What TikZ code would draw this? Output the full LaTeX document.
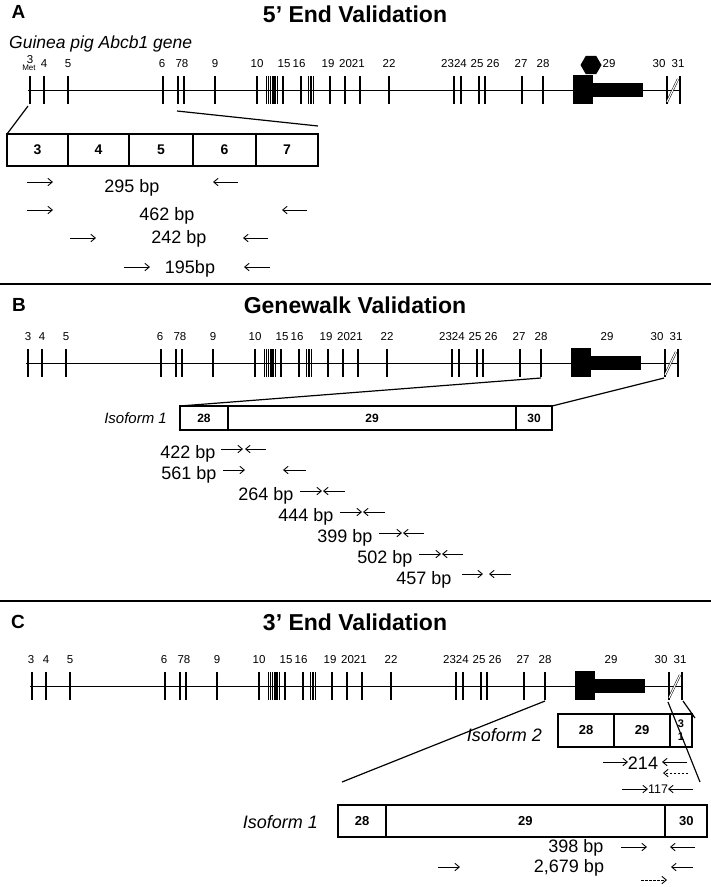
\documentclass[tikz,border=0pt]{standalone}
\usepackage{fontspec}
\setmainfont{Liberation Sans}
\usetikzlibrary{arrows.meta}
\newcommand{\genemodel}[3]{%
 \begin{scope}[shift={(#1,#2)}]
  \draw[line width=1pt] (28,0) -- (680,0);
  \foreach \ex in {30,44,68,163,178,184,215,257,283,301,330,345,360,389,454,461,479,485,522,543,667,680}
    \draw[exon] (\ex,-14) -- (\ex,14);
  \foreach \ex in {266.5,268.6,270.7,272.8,274.9,277.2,308.4,310.8,313.2}
    \draw[thinexon] (\ex,-14) -- (\ex,14);
  \fill (573,-15) rectangle (593,14);
  \fill (593,-7) rectangle (643,7);
  \draw[line width=0.5pt, double, double distance=1.1pt] (667,12) -- (678,-11);
  \foreach \lx/\lt in {44/4,68/5,162/6,182/78,215/9,257/10,284/15,299/16,328/19,352/2021,389/22,454/2324,477/25,493/26,521/27,543/28,609/29,659/30,678/31}
    \node[gl, anchor=base] (#3lab\lt) at (\lx,-23) {\lt};
 \end{scope}}
\newcommand{\primer}[3]{\draw[fw] (#1,#3) -- (#2,#3);}
\newcommand{\primerd}[3]{\draw[fw,dash pattern=on 2.5pt off 1.5pt] (#1,#3) -- (#2,#3);}
\begin{document}
\begin{tikzpicture}[x=1pt,y=-1pt,
  exon/.style={line width=2.9pt},
  thinexon/.style={line width=1.4pt},
  gl/.style={font=\fontsize{11.5}{11.5}\selectfont, inner sep=0pt},
  ttl/.style={font=\fontsize{23}{23}\selectfont\bfseries, inner sep=0pt},
  plet/.style={font=\fontsize{19}{19}\selectfont\bfseries, inner sep=0pt},
  cell/.style={draw, line width=1.8pt, inner sep=0pt, outer sep=0pt, font=\fontsize{12}{12}\selectfont\bfseries},
  bp/.style={font=\fontsize{18}{18}\selectfont, inner sep=0pt},
  iso/.style={font=\fontsize{18}{18}\selectfont\itshape, inner sep=0pt},
  fw/.style={-{Straight Barb[length=4.5pt,width=7.5pt]}, line width=0.9pt},
  conn/.style={line width=1.2pt},
  sep/.style={line width=1.6pt}
]
\useasboundingbox[fill=white] (0,0) rectangle (711,887);

% ---------------- Panel A ----------------
\node[plet] (letA) at (18.5,12) {A};
\node[ttl] (ttlA) at (355,14) {5’ End Validation};
\node[iso, font=\fontsize{17.5}{17.5}\selectfont\itshape, anchor=west] (gname) at (9,44) {Guinea pig Abcb1 gene};
\genemodel{0}{90}{A}
\node[gl, anchor=base] (Alab3) at (30,63.5) {3};
\node[inner sep=0pt, font=\fontsize{8}{8}\selectfont] (Amet) at (29,68) {Met};
\fill (591,65) +(0:10.5) -- +(60:10.5) -- +(120:10.5) -- +(180:10.5) -- +(240:10.5) -- +(300:10.5) -- cycle;

\node[cell, font=\fontsize{14}{14}\selectfont\bfseries, minimum width=61pt, minimum height=32pt] (a3) at (37.5,150) {3};
\node[cell, font=\fontsize{14}{14}\selectfont\bfseries, minimum width=61pt, minimum height=32pt] (a4) at (98.5,150) {4};
\node[cell, font=\fontsize{14}{14}\selectfont\bfseries, minimum width=64pt, minimum height=32pt] (a5) at (161,150) {5};
\node[cell, font=\fontsize{14}{14}\selectfont\bfseries, minimum width=63pt, minimum height=32pt] (a6) at (224.5,150) {6};
\node[cell, font=\fontsize{14}{14}\selectfont\bfseries, minimum width=62pt, minimum height=32pt] (a7) at (287,150) {7};
\coordinate (Ast1) at (28,106);
\coordinate (Ast2) at (177,111);
\coordinate (Aen2) at (318,126);
\draw[conn] (Ast1) -- (a3.north west);
\draw[conn] (Ast2) -- (Aen2);

\primer{27}{53}{182} \node[bp] (bp295) at (132,188) {295 bp}; \primer{238}{213}{182}
\primer{27}{53}{210} \node[bp] (bp462) at (167,216) {462 bp}; \primer{307}{282}{210}
\primer{70}{96}{238} \node[bp] (bp242) at (179,239) {242 bp}; \primer{268}{243}{238}
\primer{124}{150}{267} \node[bp] (bp195) at (190,269) {195bp}; \primer{270}{244}{267}

\coordinate (sepAl) at (0,284); \coordinate (sepAr) at (711,284);
\draw[sep] (sepAl) -- (sepAr);

% ---------------- Panel B ----------------
\node[plet] (letB) at (19,305) {B};
\node[ttl] (ttlB) at (355,305) {Genewalk Validation};
\genemodel{-2}{363}{B}
\node[gl, anchor=base] (Blab3) at (28,340) {3};
\node[cell, minimum width=48pt, minimum height=24pt] (b28) at (204,418) {28};
\node[cell, minimum width=288pt, minimum height=24pt] (b29) at (372,418) {29};
\node[cell, minimum width=36pt, minimum height=24pt] (b30) at (534,418) {30};
\node[iso, font=\fontsize{15}{15}\selectfont\itshape, anchor=east] (isoB) at (167,418) {Isoform 1};
\coordinate (Bst1) at (541,378);
\coordinate (Bst2) at (664,378);
\draw[conn] (Bst1) -- (b28.north west);
\draw[conn] (Bst2) -- (b30.north east);

\node[bp] (bp422) at (188,454) {422 bp}; \primer{221}{243}{449} \primer{266}{245}{449}
\node[bp] (bp561) at (189,475) {561 bp}; \primer{223}{245}{470} \primer{306}{283}{470}
\node[bp] (bp264) at (266,496) {264 bp}; \primer{300}{322}{491} \primer{345}{323}{491}
\node[bp] (bp444) at (306,517) {444 bp}; \primer{340}{362}{512} \primer{385}{363}{512}
\node[bp] (bp399) at (345,538) {399 bp}; \primer{379}{402}{533} \primer{424}{403}{533}
\node[bp] (bp502) at (385,559) {502 bp}; \primer{419}{441}{554} \primer{463}{442}{554}
\node[bp] (bp457) at (424,580) {457 bp}; \primer{462}{483}{574} \primer{511}{489}{574}

\coordinate (sepBl) at (0,601); \coordinate (sepBr) at (711,601);
\draw[sep] (sepBl) -- (sepBr);

% ---------------- Panel C ----------------
\node[plet] (letC) at (18,622) {C};
\node[ttl] (ttlC) at (355,622) {3’ End Validation};
\genemodel{2}{686}{C}
\node[gl, anchor=base] (Clab3) at (31,663) {3};

\node[cell, font=\fontsize{13}{13}\selectfont\bfseries, minimum width=56pt, minimum height=33pt] (c228) at (586,730.5) {28};
\node[cell, font=\fontsize{13}{13}\selectfont\bfseries, minimum width=56pt, minimum height=33pt] (c229) at (642,730.5) {29};
\node[cell, minimum width=22pt, minimum height=33pt, align=center, font=\fontsize{11}{13}\selectfont\bfseries] (c231) at (681,730.5) {3\\1};
\node[iso, anchor=east] (isoC2) at (542,735) {Isoform 2};

\node[cell, font=\fontsize{13}{13}\selectfont\bfseries, minimum width=48pt, minimum height=32pt] (c128) at (362,821) {28};
\node[cell, font=\fontsize{13}{13}\selectfont\bfseries, minimum width=278.5pt, minimum height=32pt] (c129) at (525.25,821) {29};
\node[cell, font=\fontsize{13}{13}\selectfont\bfseries, minimum width=41.5pt, minimum height=32pt] (c130) at (686.25,821) {30};
\node[iso, anchor=east] (isoC1) at (318,822) {Isoform 1};

\coordinate (Cst1) at (545,701); \coordinate (Cen1) at (342,782);
\coordinate (Cst2) at (668,702); \coordinate (Cen2) at (700,782);
\coordinate (Cst3) at (683,701); \coordinate (Cen3) at (695,718);
\draw[conn] (Cst1) -- (Cen1);
\draw[conn] (Cst2) -- (Cen2);
\draw[conn] (Cst3) -- (Cen3);

\primer{603}{628}{762} \node[bp] (bp214) at (643,763) {214}; \primer{687}{662}{762}
\primerd{688}{663}{773}
\primer{622}{648}{789} \node[bp, font=\fontsize{12.5}{12.5}\selectfont] (bp117) at (658,789) {117}; \primer{693}{668}{789}

\node[bp] (bp398) at (576,848) {398 bp}; \primer{621}{647}{847} \primer{695}{670}{847}
\node[bp] (bp2679) at (569,868) {2,679 bp}; \primer{438}{460}{867} \primer{693}{671}{867}
\primerd{641}{667}{880}
\end{tikzpicture}
\end{document}
